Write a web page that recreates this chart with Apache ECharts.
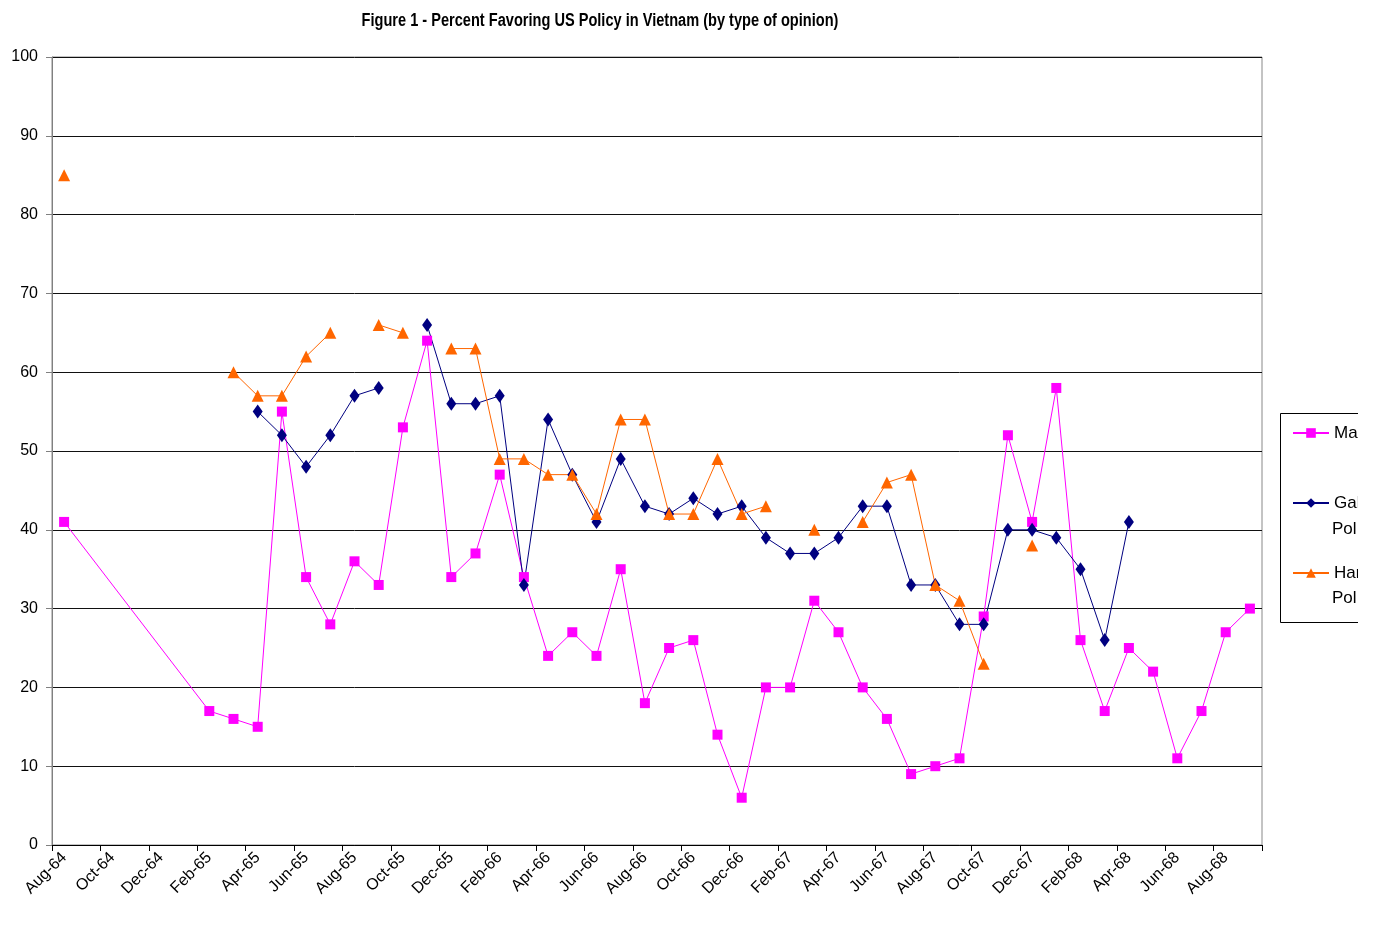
<!DOCTYPE html>
<html>
<head>
<meta charset="utf-8">
<script src="https://cdn.jsdelivr.net/npm/echarts@6/dist/echarts.min.js"></script>
<style>
  html, body { margin: 0; padding: 0; background: #fff; }
  /* the original picture is cut off on the right, through the legend */
  #chart { width: 1358px; height: 930px; }
</style>
</head>
<body>
<div id="chart"></div>
<script>
// months, Aug-64 .. Sep-68
var months = [
  'Aug-64', 'Sep-64', 'Oct-64', 'Nov-64', 'Dec-64',
  'Jan-65', 'Feb-65', 'Mar-65', 'Apr-65', 'May-65', 'Jun-65', 'Jul-65', 'Aug-65', 'Sep-65', 'Oct-65', 'Nov-65', 'Dec-65',
  'Jan-66', 'Feb-66', 'Mar-66', 'Apr-66', 'May-66', 'Jun-66', 'Jul-66', 'Aug-66', 'Sep-66', 'Oct-66', 'Nov-66', 'Dec-66',
  'Jan-67', 'Feb-67', 'Mar-67', 'Apr-67', 'May-67', 'Jun-67', 'Jul-67', 'Aug-67', 'Sep-67', 'Oct-67', 'Nov-67', 'Dec-67',
  'Jan-68', 'Feb-68', 'Mar-68', 'Apr-68', 'May-68', 'Jun-68', 'Jul-68', 'Aug-68', 'Sep-68'
];

var malValues = [
  41, null, null, null, null,
  null, 17, 16, 15, 55, 34, 28, 36, 33, 53, 64, 34,
  37, 47, 34, 24, 27, 24, 35, 18, 25, 26, 14, 6,
  20, 20, 31, 27, 20, 16, 9, 10, 11, 29, 52, 41,
  58, 26, 17, 25, 22, 11, 17, 27, 30
];

var gallupValues = [
  null, null, null, null, null,
  null, null, null, 55, 52, 48, 52, 57, 58, null, 66, 56,
  56, 57, 33, 54, 47, 41, 49, 43, 42, 44, 42, 43,
  39, 37, 37, 39, 43, 43, 33, 33, 28, 28, 40, 40,
  39, 35, 26, 41, null, null, null, null, null
];

var harrisValues = [
  85, null, null, null, null,
  null, null, 60, 57, 57, 62, 65, null, 66, 65, null, 63,
  63, 49, 49, 47, 47, 42, 54, 54, 42, 42, 49, 42,
  43, null, 40, null, 41, 46, 47, 33, 31, 23, null, 38,
  null, null, null, null, null, null, null, null, null
];

var legendLabels = { 'Mail': 'Mal', 'Gallup Poll': 'Gal', 'Harris Poll': 'Har' };

var chart = echarts.init(document.getElementById('chart'));

var option = {
  animation: false,
  backgroundColor: '#fff',
  legend: {
    orient: 'vertical',
    left: 1292,
    top: 423,
    padding: 0,
    itemWidth: 36,
    itemHeight: 12,
    itemGap: 50,
    data: ['Mail', 'Gallup Poll', 'Harris Poll'],
    formatter: function (name) { return legendLabels[name]; },
    textStyle: {
      fontFamily: '"Liberation Sans", Arial, sans-serif',
      fontSize: 17,
      lineHeight: 20,
      color: '#000'
    }
  },
  graphic: [
    {
      // title, squeezed like the original condensed face
      type: 'text',
      x: 600,
      y: 21,
      scaleX: 0.81,
      style: {
        text: 'Figure 1 - Percent Favoring US Policy in Vietnam (by type of opinion)',
        font: 'bold 18px "Liberation Sans", Arial, sans-serif',
        fill: '#000',
        align: 'center',
        verticalAlign: 'middle'
      }
    },
    {
      type: 'polyline',
      shape: { points: [[1360, 413.5], [1280.5, 413.5], [1280.5, 622.5], [1360, 622.5]] },
      style: { stroke: '#000', lineWidth: 1, fill: null }
    },
    {
      type: 'text', left: 1332, top: 521,
      style: { text: 'Pol', font: '17px "Liberation Sans", Arial', fill: '#000' }
    },
    {
      type: 'text', left: 1332, top: 590,
      style: { text: 'Pol', font: '17px "Liberation Sans", Arial', fill: '#000' }
    }
  ],
  grid: {
    left: 52,
    right: 96,
    top: 57,
    bottom: 85,
    show: true,
    borderColor: '#888',
    borderWidth: 1
  },
  xAxis: {
    type: 'category',
    data: months,
    boundaryGap: true,
    axisLine: { lineStyle: { color: '#000', width: 1 } },
    axisTick: { show: true, interval: 1, length: 6, lineStyle: { color: '#000' } },
    axisLabel: {
      interval: 1,
      rotate: 45,
      margin: 10,
      fontFamily: '"Liberation Sans", Arial, sans-serif',
      fontSize: 16,
      color: '#000'
    }
  },
  yAxis: {
    type: 'value',
    min: 0,
    max: 100,
    interval: 10,
    axisLine: { show: true, lineStyle: { color: '#808080', width: 1 } },
    axisTick: { show: true, length: 6, lineStyle: { color: '#808080' } },
    axisLabel: {
      margin: 14,
      fontFamily: '"Liberation Sans", Arial, sans-serif',
      fontSize: 16,
      color: '#000'
    },
    splitLine: { show: true, lineStyle: { color: '#111', width: 1 } }
  },
  series: [
    {
      name: 'Mail',
      type: 'line',
      data: malValues,
      connectNulls: true,
      symbol: 'rect',
      symbolSize: 10,
      showAllSymbol: true,
      lineStyle: { color: '#FF00FF', width: 1 },
      itemStyle: { color: '#FF00FF' }
    },
    {
      name: 'Gallup Poll',
      type: 'line',
      data: gallupValues,
      connectNulls: false,
      symbol: 'diamond',
      symbolSize: [10, 14],
      showAllSymbol: true,
      lineStyle: { color: '#000080', width: 1 },
      itemStyle: { color: '#000080' }
    },
    {
      name: 'Harris Poll',
      type: 'line',
      data: harrisValues,
      connectNulls: false,
      symbol: 'triangle',
      symbolSize: 12,
      showAllSymbol: true,
      lineStyle: { color: '#FF6600', width: 1 },
      itemStyle: { color: '#FF6600' }
    }
  ]
};

chart.setOption(option);
window.onresize = chart.resize;
</script>
</body>
</html>
